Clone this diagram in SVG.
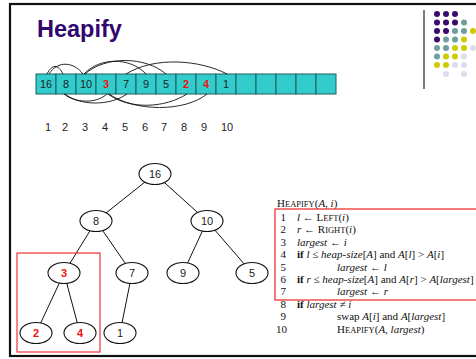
<svg xmlns="http://www.w3.org/2000/svg" width="476" height="359" viewBox="0 0 476 359">
<defs>
<style>
.t{font-family:"Liberation Sans",Arial,sans-serif;font-size:11px;fill:#222;text-anchor:middle}
.r{fill:#ee1111;font-weight:bold}
.cell{fill:#33cccc;stroke:#1f5c5c;stroke-width:1}
.arc{fill:none;stroke:#111;stroke-width:0.9}
.edge{stroke:#111;stroke-width:1}
.node{fill:#fff;stroke:#111;stroke-width:1.1}
.code{font-family:"Liberation Serif","Times New Roman",serif;font-size:11px;fill:#111}
.i{font-style:italic}
.b{font-weight:bold}
.s{font-size:8.5px}
.P{fill:#3a0a6e}.T{fill:#6e9e9e}.Y{fill:#cccc00}.L{fill:#dcdcee}
</style>
</defs>
<rect x="10" y="4" width="475" height="352" fill="#fff" stroke="#111" stroke-width="2.2"/>
<text x="37" y="37" font-family="'Liberation Sans',Arial,sans-serif" font-size="23.5" font-weight="bold" fill="#31066f">Heapify</text>
<line x1="424" y1="10" x2="424" y2="89" stroke="#222" stroke-width="1.2"/>
<g id="dots">
<circle class="P" cx="437" cy="14" r="3"/><circle class="P" cx="446" cy="14" r="3"/><circle class="P" cx="455" cy="14" r="3"/>
<circle class="P" cx="437" cy="22.5" r="3"/><circle class="P" cx="446" cy="22.5" r="3"/><circle class="P" cx="455" cy="22.5" r="3"/><circle class="T" cx="464" cy="22.5" r="3"/>
<circle class="P" cx="437" cy="31" r="3"/><circle class="P" cx="446" cy="31" r="3"/><circle class="T" cx="455" cy="31" r="3"/><circle class="T" cx="464" cy="31" r="3"/><circle class="Y" cx="473" cy="31" r="3"/>
<circle class="P" cx="437" cy="39.5" r="3"/><circle class="T" cx="446" cy="39.5" r="3"/><circle class="T" cx="455" cy="39.5" r="3"/><circle class="Y" cx="464" cy="39.5" r="3"/>
<circle class="T" cx="437" cy="48" r="3"/><circle class="T" cx="446" cy="48" r="3"/><circle class="Y" cx="455" cy="48" r="3"/><circle class="Y" cx="464" cy="48" r="3"/><circle class="L" cx="473" cy="48" r="3"/>
<circle class="T" cx="437" cy="56.5" r="3"/><circle class="Y" cx="446" cy="56.5" r="3"/><circle class="Y" cx="455" cy="56.5" r="3"/><circle class="L" cx="464" cy="56.5" r="3"/>
<circle class="Y" cx="437" cy="65" r="3"/><circle class="Y" cx="446" cy="65" r="3"/><circle class="L" cx="455" cy="65" r="3"/><circle class="L" cx="464" cy="65" r="3"/>
<circle class="L" cx="446" cy="74" r="3"/><circle class="L" cx="464" cy="74" r="3"/>
</g>
<g id="array">
<rect class="cell" x="36" y="74" width="20" height="20"/><rect class="cell" x="56" y="74" width="20" height="20"/><rect class="cell" x="76" y="74" width="20" height="20"/><rect class="cell" x="96" y="74" width="20" height="20"/><rect class="cell" x="116" y="74" width="20" height="20"/><rect class="cell" x="136" y="74" width="20" height="20"/><rect class="cell" x="156" y="74" width="20" height="20"/><rect class="cell" x="176" y="74" width="20" height="20"/><rect class="cell" x="196" y="74" width="20" height="20"/><rect class="cell" x="216" y="74" width="20" height="20"/><rect class="cell" x="236" y="74" width="20" height="20"/><rect class="cell" x="256" y="74" width="20" height="20"/><rect class="cell" x="276" y="74" width="20" height="20"/><rect class="cell" x="296" y="74" width="20" height="20"/><rect class="cell" x="316" y="74" width="20" height="20"/>
<text class="t" x="46" y="88">16</text><text class="t" x="66" y="88">8</text><text class="t" x="86" y="88">10</text><text class="t r" x="106" y="88">3</text><text class="t" x="126" y="88">7</text><text class="t" x="146" y="88">9</text><text class="t" x="166" y="88">5</text><text class="t r" x="186" y="88">2</text><text class="t r" x="206" y="88">4</text><text class="t" x="226" y="88">1</text>
</g>
<g id="array-arcs">
<path class="arc" d="M47,74 C52,64 58,64 63,74"/>
<path class="arc" d="M49,74 C58,60 74,62 83,74"/>
<path class="arc" d="M84,74 C100,57 130,57 146,74"/>
<path class="arc" d="M85,74 C105,56 145,56 166,74"/>
<path class="arc" d="M126,74 C155,56 200,60 227,74"/>
<path class="arc" d="M64,94 C75,103 96,104 107,94"/>
<path class="arc" d="M65,94 C80,106 110,106 127,94"/>
<path class="arc" d="M108,94 C130,110 165,108 187,94"/>
<path class="arc" d="M109,94 C135,112 185,112 207,94"/>
</g>
<g id="indices">
<text class="t" x="48" y="131">1</text><text class="t" x="65" y="131">2</text><text class="t" x="85" y="131">3</text><text class="t" x="105" y="131">4</text><text class="t" x="125" y="131">5</text><text class="t" x="145" y="131">6</text><text class="t" x="164" y="131">7</text><text class="t" x="184" y="131">8</text><text class="t" x="204" y="131">9</text><text class="t" x="227" y="131">10</text>
</g>
<g id="connectors">
<line class="edge" x1="155" y1="174" x2="96" y2="221"/>
<line class="edge" x1="155" y1="174" x2="207" y2="221"/>
<line class="edge" x1="96" y1="221" x2="64" y2="273"/>
<line class="edge" x1="96" y1="221" x2="132" y2="273"/>
<line class="edge" x1="207" y1="221" x2="183" y2="273"/>
<line class="edge" x1="207" y1="221" x2="252" y2="273"/>
<line class="edge" x1="64" y1="273" x2="36" y2="333"/>
<line class="edge" x1="64" y1="273" x2="80" y2="333"/>
<line class="edge" x1="132" y1="273" x2="120" y2="333"/>
</g>
<rect x="17" y="253" width="83" height="99" fill="none" stroke="#ee3333" stroke-width="1.2"/>
<g id="n16"><ellipse class="node" cx="155" cy="174" rx="16" ry="10.5"/><text class="t" x="155" y="178">16</text></g>
<g id="n8"><ellipse class="node" cx="96" cy="221" rx="16" ry="10.5"/><text class="t" x="96" y="225">8</text></g>
<g id="n10"><ellipse class="node" cx="207" cy="221" rx="16" ry="10.5"/><text class="t" x="207" y="225">10</text></g>
<g id="n3"><ellipse class="node" cx="64" cy="273" rx="16" ry="10.5"/><text class="t r" x="64" y="277">3</text></g>
<g id="n7"><ellipse class="node" cx="132" cy="273" rx="16" ry="10.5"/><text class="t" x="132" y="277">7</text></g>
<g id="n9"><ellipse class="node" cx="183" cy="273" rx="16" ry="10.5"/><text class="t" x="183" y="277">9</text></g>
<g id="n5"><ellipse class="node" cx="252" cy="273" rx="16" ry="10.5"/><text class="t" x="252" y="277">5</text></g>
<g id="n2"><ellipse class="node" cx="36" cy="333" rx="16" ry="10.5"/><text class="t r" x="36" y="337">2</text></g>
<g id="n4"><ellipse class="node" cx="80" cy="333" rx="16" ry="10.5"/><text class="t r" x="80" y="337">4</text></g>
<g id="n1"><ellipse class="node" cx="120" cy="333" rx="16" ry="10.5"/><text class="t" x="120" y="337">1</text></g>
<g id="code">
<rect x="275" y="209" width="205" height="91" fill="none" stroke="#ee2222" stroke-width="1.2"/>
<text class="code" x="277" y="207">H<tspan class="s">EAPIFY</tspan>(<tspan class="i">A, i</tspan>)</text>
<g class="code" text-anchor="end">
<text x="286" y="221">1</text><text x="286" y="233.4">2</text><text x="286" y="245.8">3</text><text x="286" y="258.2">4</text><text x="286" y="270.6">5</text><text x="286" y="283">6</text><text x="286" y="295.4">7</text><text x="286" y="307.8">8</text><text x="286" y="320.2">9</text><text x="287" y="332.6">10</text>
</g>
<text class="code" x="297" y="221"><tspan class="i">l</tspan> ← L<tspan class="s">EFT</tspan>(<tspan class="i">i</tspan>)</text>
<text class="code" x="297" y="233.4"><tspan class="i">r</tspan> ← R<tspan class="s">IGHT</tspan>(<tspan class="i">i</tspan>)</text>
<text class="code" x="297" y="245.8"><tspan class="i">largest</tspan> ← <tspan class="i">i</tspan></text>
<text class="code" x="297" y="258.2"><tspan class="b">if</tspan> <tspan class="i">l</tspan> ≤ <tspan class="i">heap-size</tspan>[<tspan class="i">A</tspan>] and <tspan class="i">A</tspan>[<tspan class="i">l</tspan>] &gt; <tspan class="i">A</tspan>[<tspan class="i">i</tspan>]</text>
<text class="code" x="337" y="270.6"><tspan class="i">largest</tspan> ← <tspan class="i">l</tspan></text>
<text class="code" x="297" y="283"><tspan class="b">if</tspan> <tspan class="i">r</tspan> ≤ <tspan class="i">heap-size</tspan>[<tspan class="i">A</tspan>] and <tspan class="i">A</tspan>[<tspan class="i">r</tspan>] &gt; <tspan class="i">A</tspan>[<tspan class="i">largest</tspan>]</text>
<text class="code" x="337" y="295.4"><tspan class="i">largest</tspan> ← <tspan class="i">r</tspan></text>
<text class="code" x="297" y="307.8"><tspan class="b">if</tspan> <tspan class="i">largest</tspan> ≠ <tspan class="i">i</tspan></text>
<text class="code" x="337" y="320.2">swap <tspan class="i">A</tspan>[<tspan class="i">i</tspan>] and <tspan class="i">A</tspan>[<tspan class="i">largest</tspan>]</text>
<text class="code" x="337" y="332.6">H<tspan class="s">EAPIFY</tspan>(<tspan class="i">A, largest</tspan>)</text>
</g>
</svg>
